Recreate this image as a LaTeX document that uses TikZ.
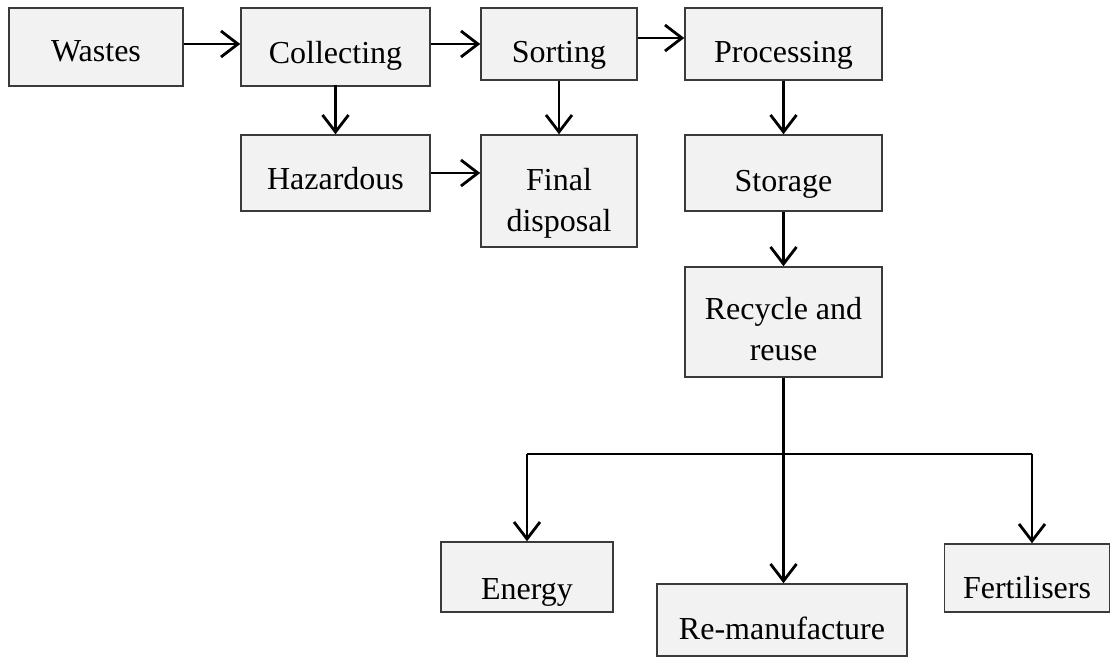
\documentclass[tikz,border=0pt]{standalone}
\usepackage{fontspec}
\setmainfont{Liberation Serif}
\usetikzlibrary{arrows.meta}
\definecolor{boxfill}{HTML}{F2F2F2}
\definecolor{boxline}{HTML}{3A3A3A}
\newcommand\dn[2]{\raisebox{-#1}[\height][\depth]{\begin{tabular}{@{}c@{}}#2\end{tabular}}}
\begin{document}
\begin{tikzpicture}[x=1pt,y=-1pt,
  boxnode/.style={draw=boxline,line width=1.5pt,fill=boxfill,rectangle,inner sep=0pt,
    align=center,font=\fontsize{32}{41}\selectfont},
  flow/.style={line width=2.8pt,-{Straight Barb[length=17pt,width=26pt,line width=2.8pt]}},
  plain/.style={line width=2.8pt}]
\useasboundingbox (0,0) rectangle (1110,657);
\node[boxnode,minimum width=174pt,minimum height=78pt] (wastes) at (96,47) {\dn{6pt}{Wastes}};
\node[boxnode,minimum width=189pt,minimum height=78pt] (collect) at (335.5,47) {\dn{8pt}{Collecting}};
\node[boxnode,minimum width=156pt,minimum height=72pt] (sort) at (559,44) {\dn{10pt}{Sorting}};
\node[boxnode,minimum width=197pt,minimum height=72pt] (proc) at (783.5,44) {\dn{10pt}{Processing}};
\node[boxnode,minimum width=189pt,minimum height=76pt] (haz) at (335.5,173) {\dn{8pt}{Hazardous}};
\node[boxnode,minimum width=156pt,minimum height=112pt] (final) at (559,191) {\dn{12pt}{Final\\disposal}};
\node[boxnode,minimum width=197pt,minimum height=76pt] (store) at (783.5,173) {\dn{10pt}{Storage}};
\node[boxnode,minimum width=197pt,minimum height=110pt] (recyc) at (783.5,322) {\dn{10pt}{Recycle and\\reuse}};
\node[boxnode,minimum width=172pt,minimum height=70pt] (energy) at (527,577) {\dn{14pt}{Energy}};
\node[boxnode,minimum width=250pt,minimum height=72pt] (reman) at (782,620) {\dn{11pt}{Re-manufacture}};
\node[boxnode,minimum width=165pt,minimum height=68pt] (fert) at (1027,578) {\dn{12pt}{Fertilisers}};
\coordinate (br) at (783,454);
\draw[flow] ([yshift=3pt]wastes.east) -- ([yshift=3pt]collect.west);
\draw[flow] ([yshift=3pt]collect.east) -- ([yshift=3pt]collect.east -| sort.west);
\draw[flow] ([yshift=6pt]sort.east) -- ([yshift=6pt]sort.east -| proc.west);
\draw[flow] ([yshift=2pt]collect.south) -- (haz.north);
\draw[flow] (sort.south) -- (final.north);
\draw[flow] (proc.south) -- (store.north);
\draw[flow] (store.south) -- (recyc.north);
\draw[flow] (haz.east) -- (haz.east -| final.west);
\draw[flow] (recyc.south) -- (recyc.south |- reman.north);
\draw[plain] (energy.north |- br) -- ([xshift=5pt]fert.north |- br);
\draw[flow] (energy.north |- br) -- (energy.north);
\draw[flow] ([xshift=5pt]fert.north |- br) -- ([xshift=5pt]fert.north);
\end{tikzpicture}
\end{document}
